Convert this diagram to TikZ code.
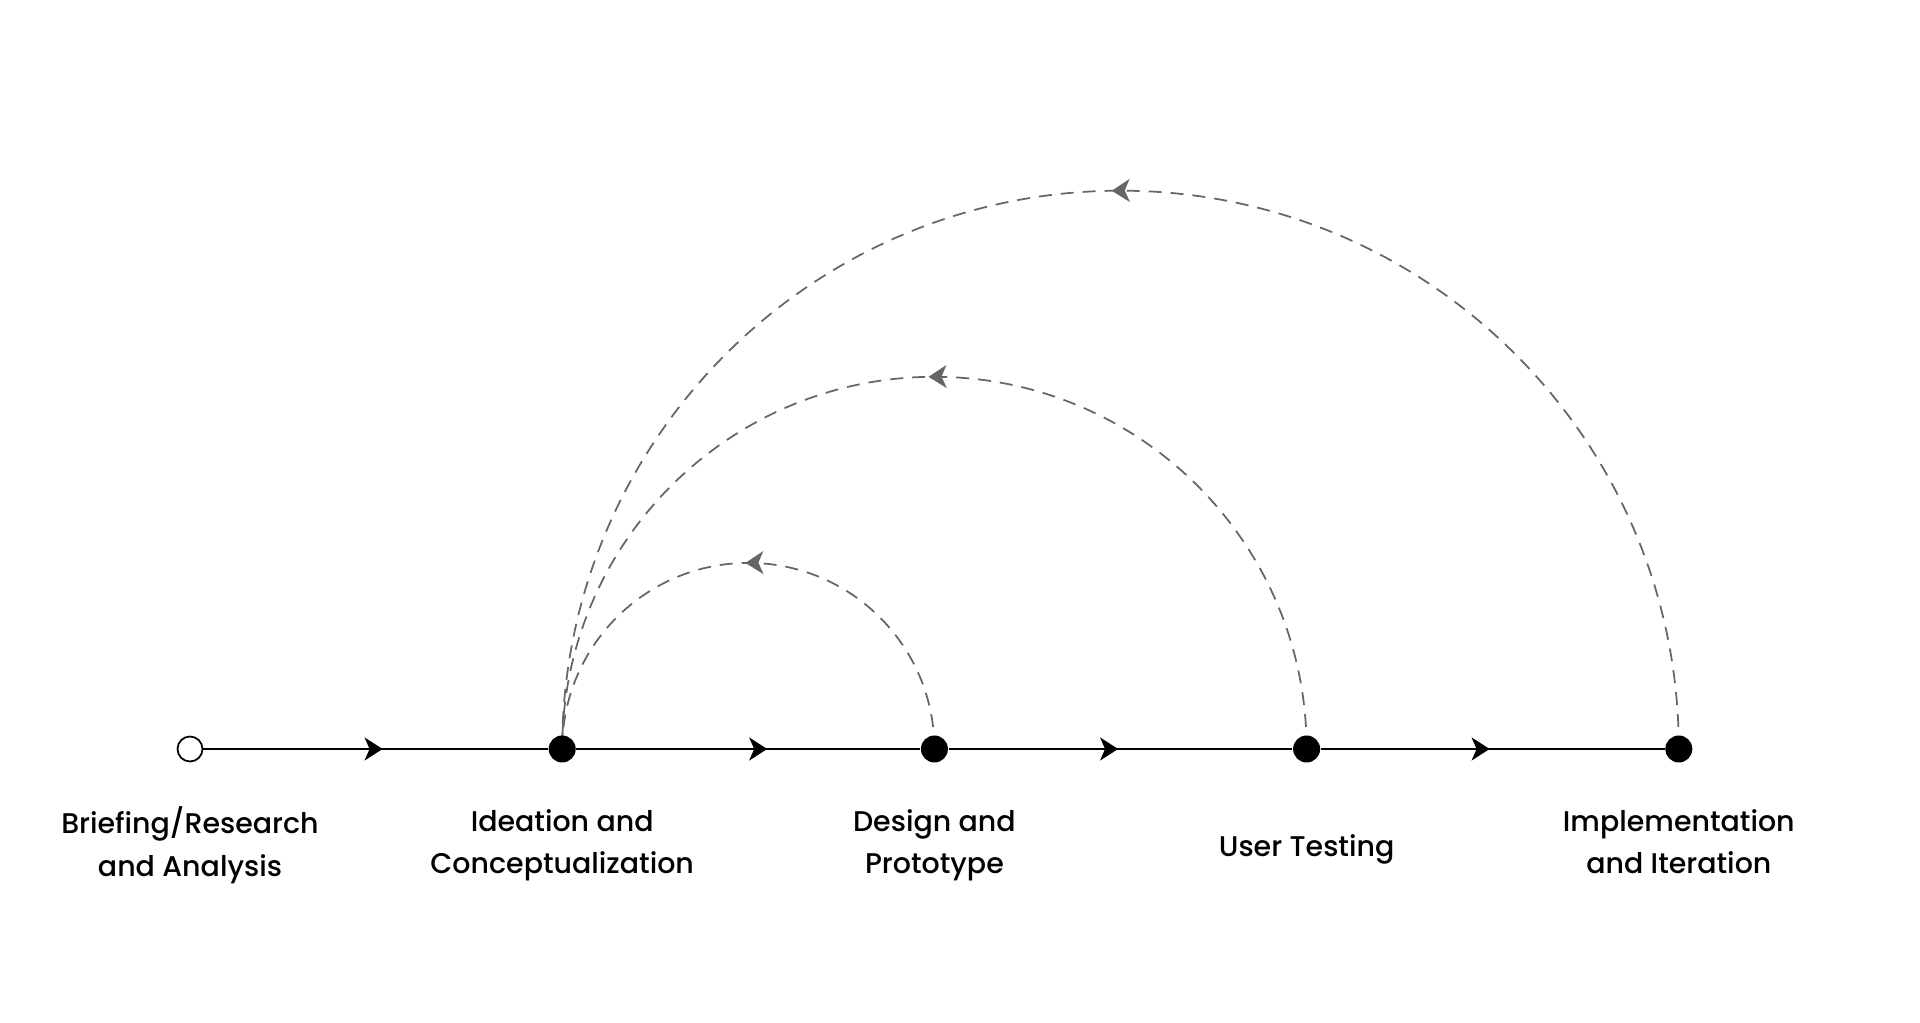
\documentclass[tikz,border=0pt]{standalone}
\usepackage{fontspec}
\setmainfont{Poppins}[UprightFont = * Medium]
\usetikzlibrary{arrows.meta}
\usetikzlibrary{decorations.markings}
\usetikzlibrary{backgrounds}
\definecolor{mgray}{rgb}{0.4, 0.4, 0.4}
\tikzset{midarrow/.style = {decoration={markings,
                                        mark=at position #1 with {\arrow{Stealth[length=0.18cm, width=0.23cm, inset=0.05cm]}}},
                            postaction={decorate}}}
\tikzset{dot/.style = {fill, circle, inner sep = 0, minimum size = 0.27cm}}
\tikzset{opendot/.style = {draw, fill = white, circle, inner sep = 0, minimum size = 0.25cm, line width = 0.5pt}}
\tikzset{flow/.style = {line width = 0.6pt, midarrow = #1}}
\tikzset{back/.style = {mgray, line width = 0.5pt, dash pattern = on 0.13cm off 0.09cm,
                        midarrow = 0.505}}
\tikzset{lbl/.style = {align = center, font = \fontsize{8.1}{12.1}\selectfont,
                       execute at begin node = \strut, execute at end node = \strut}}

\begin{document}
\begin{tikzpicture}
    \useasboundingbox (0, 0) rectangle (19.2, 10.22);
    \node [opendot] (s0) at (1.90, 2.73) {};
    \foreach \i in {1,...,4} {
      \node [dot] (s\i) at (1.90 + 3.722*\i, 2.73) {};
    }
    \foreach \i/\j/\t in {0/1/0.52, 1/2/0.555, 2/3/0.493, 3/4/0.491} {
      \draw [flow = \t] (s\i) -- (s\j);
    }
    % loops back to ideation
    \begin{scope}[on background layer]
      \foreach \i/\r in {2/1.861, 3/3.722, 4/5.583} {
        \draw [back] (s\i.center) arc [start angle = 0, end angle = 180, radius = \r];
      }
    \end{scope}
    \node [lbl] (l0) at (1.90, 1.74) {Briefing/Research\\and Analysis};
    \node [lbl] (l1) at (5.622, 1.74) {Ideation and\\Conceptualization};
    \node [lbl] (l2) at (9.344, 1.74) {Design and\\Prototype};
    \node [lbl] (l3) at (13.066, 1.74) {User Testing};
    \node [lbl] (l4) at (16.788, 1.74) {Implementation\\and Iteration};
  \end{tikzpicture}
\end{document}
